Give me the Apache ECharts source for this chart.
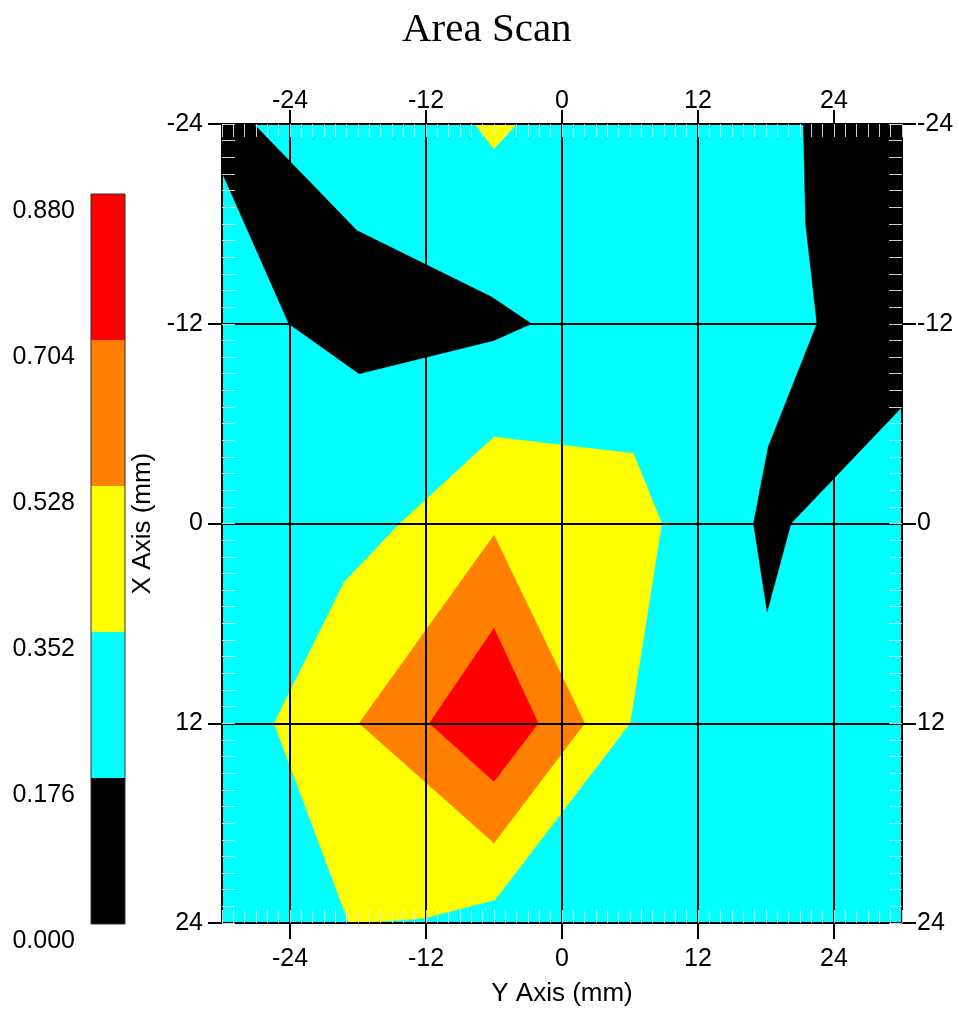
<!DOCTYPE html>
<html><head><meta charset="utf-8">
<script src="https://cdn.jsdelivr.net/npm/echarts@6/dist/echarts.min.js"></script>
<style>html,body{margin:0;padding:0;background:#fff}#c{width:959px;height:1012px}</style>
</head><body><div id="c"></div>
<script>
const chartTitle = 'Area Scan';
const xAxisName = 'Y Axis (mm)';
const yAxisName = 'X Axis (mm)';
const xRange = [-30, 30];
const yRange = [-24, 24];
const majorTicksX = [-24, -12, 0, 12, 24];
const majorTicksY = [-24, -12, 0, 12, 24];
const levels = [0, 0.176, 0.352, 0.528, 0.704, 0.880];
const bandColors = ['#000000', '#00ffff', '#ffff00', '#ff8000', '#ff0000'];
// contour boundaries in data units: [Y axis mm, X axis mm]
const blackTopLeft = [[-30,-24],[-27.2,-24],[-18.1,-17.6],[-6.2,-13.6],[-2.7,-12],[-6.0,-11.0],[-17.9,-9.0],[-24.1,-12],[-30,-21.1]];
const blackRight = [[21.3,-24],[30,-24],[30,-7.0],[20.2,0],[18.1,5.3],[16.9,0],[18.2,-4.6],[22.5,-12],[21.5,-18]];
const yellowTop = [[-7.7,-24],[-4.0,-24],[-6.0,-22.5]];
const yellowMain = [[-6.0,-5.2],[6.3,-4.2],[8.8,0],[6.0,12],[-5.9,22.6],[-12.1,23.7],[-15.6,23.9],[-18.8,24],[-25.4,12],[-19.2,3.5],[-14.3,0]];
const orangeDiamond = [[-6,0.7],[2.0,12],[-6,19.2],[-17.9,12]];
const redDiamond = [[-6,6.3],[-2.1,12],[-6,15.5],[-11.7,12]];
const contourShapes = [blackTopLeft, blackRight, yellowTop, yellowMain, orangeDiamond, redDiamond];
const contourBands = [0, 0, 2, 2, 3, 4];

const font = "'Liberation Sans', Arial, sans-serif";
const labelStyle = {color:'#000', fontSize:25, fontFamily:font};

function majorX(pos, split) {
  return {
    type:'value', gridIndex:0, position:pos, min:xRange[0], max:xRange[1], z:5,
    axisLine:{show:true, onZero:false, lineStyle:{color:'#000', width:2}},
    axisTick:{show:true, inside:false, length: pos==='bottom'?16:14, customValues:majorTicksX, lineStyle:{color:'#000', width:2}},
    axisLabel:Object.assign({show:true, customValues:majorTicksX, margin: pos==='bottom'?24:10}, labelStyle),
    splitLine:{show:split, lineStyle:{color:'#000', width:2}},
    name: pos==='bottom' ? xAxisName : '', nameLocation:'middle', nameGap:58,
    nameTextStyle:{color:'#000', fontSize:26, fontFamily:font}
  };
}
function minorX(pos) {
  return {
    type:'value', gridIndex:0, position:pos, min:xRange[0], max:xRange[1], interval:1, z:6,
    axisLine:{show:false, onZero:false}, axisTick:{show:true, inside:true, length:13, lineStyle:{color:'rgba(255,255,255,0.8)', width:1}},
    axisLabel:{show:false}, splitLine:{show:false}
  };
}
function majorY(pos, split) {
  return {
    type:'value', gridIndex:0, position:pos, inverse:true, min:yRange[0], max:yRange[1], interval:12, z:5,
    axisLine:{show:true, onZero:false, lineStyle:{color:'#000', width:2}},
    axisTick:{show:true, inside:false, length:14, customValues:majorTicksY, lineStyle:{color:'#000', width:2}},
    axisLabel:Object.assign({show:true, customValues:majorTicksY, margin: pos==='left'?19:15}, labelStyle),
    splitLine:{show:split, lineStyle:{color:'#000', width:2}},
    name: pos==='left' ? yAxisName : '', nameLocation:'middle', nameGap:52,
    nameTextStyle:{color:'#000', fontSize:26, fontFamily:font}
  };
}
function minorY(pos) {
  return {
    type:'value', gridIndex:0, position:pos, inverse:true, min:yRange[0], max:yRange[1], interval:1, z:6,
    axisLine:{show:false, onZero:false}, axisTick:{show:true, inside:true, length:13, lineStyle:{color:'rgba(255,255,255,0.8)', width:1}},
    axisLabel:{show:false}, splitLine:{show:false}
  };
}

const chart = echarts.init(document.getElementById('c'), null, {renderer:'canvas'});
chart.setOption({
  animation:false,
  backgroundColor:'#fff',
  title:{text:chartTitle, left:402, top:10, padding:0,
    textStyle:{fontFamily:"'Liberation Serif', 'Times New Roman', serif", fontSize:41, fontWeight:'normal', color:'#000'}},
  grid:[
    {left:222, top:124, width:680, height:799, show:true, backgroundColor:bandColors[1], borderWidth:0, outerBoundsMode:'none'},
    {left:91, top:194, width:34, height:730, show:true, backgroundColor:'transparent', borderColor:'#333', borderWidth:1, z:10, outerBoundsMode:'none'}
  ],
  xAxis:[
    majorX('bottom', true), majorX('top', false), minorX('bottom'), minorX('top'),
    {type:'value', gridIndex:1, min:0, max:1, show:false}
  ],
  yAxis:[
    majorY('left', true), majorY('right', false), minorY('left'), minorY('right'),
    {type:'value', gridIndex:1, min:levels[0], max:levels[levels.length-1], position:'left',
      axisLine:{show:false}, axisTick:{show:false}, splitLine:{show:false},
      axisLabel:Object.assign({show:true, customValues:levels, formatter:v=>v.toFixed(3), margin:16,
        verticalAlign:'top', padding:[5,0,0,0]}, labelStyle)}
  ],
  series:[
    {
      type:'custom', xAxisIndex:0, yAxisIndex:0, clip:true, z:2,
      data: contourShapes.map((s,i)=>i),
      renderItem:function(params, api){
        const i = params.dataIndex;
        const pts = contourShapes[i].map(p=>api.coord(p));
        const c = bandColors[contourBands[i]];
        return {type:'polygon', shape:{points:pts}, style:{fill:c, stroke:c, lineWidth:0.5}};
      }
    },
    {
      type:'custom', xAxisIndex:4, yAxisIndex:4, z:2,
      data: bandColors.map((c,i)=>i),
      renderItem:function(params, api){
        const i = params.dataIndex;
        const p1 = api.coord([0, levels[i+1]]);
        const p2 = api.coord([1, levels[i]]);
        return {type:'rect', shape:{x:p1[0], y:p1[1], width:p2[0]-p1[0], height:p2[1]-p1[1]},
          style:{fill:bandColors[i]}};
      }
    }
  ]
});
</script>
</body></html>
